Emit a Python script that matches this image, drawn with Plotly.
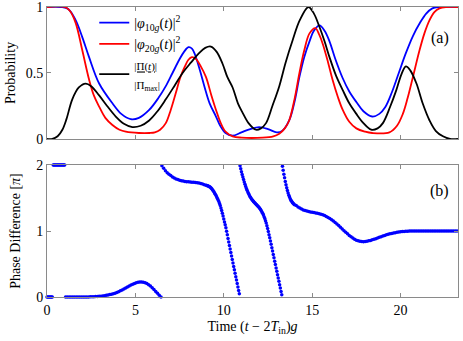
import numpy as np
import plotly.graph_objects as go

# ---- panel (a): probabilities ----
t_blue = [0, 0.8, 1.2, 1.62, 2.0, 2.38, 2.95, 3.7, 4.2, 4.74, 5.2, 5.78, 6.3, 6.72, 7.1,
          7.48, 7.75, 8.0, 8.2, 8.37, 8.65, 8.9, 9.2, 9.56, 9.8, 10.1, 10.5, 11.0, 11.5,
          12.0, 12.5, 13.0, 13.3, 13.7, 14.0, 14.28, 14.55, 14.85, 15.1, 15.41, 15.7,
          15.98, 16.3, 16.73, 17.1, 17.5, 17.9, 18.4, 18.8, 19.13, 19.5, 19.9, 20.3,
          20.7, 21.1, 21.45, 21.8, 22.2, 23.25]
p_blue = [1.0, 1.0, 0.985, 0.90, 0.77, 0.62, 0.42, 0.27, 0.19, 0.15, 0.16, 0.22, 0.31, 0.40, 0.50,
          0.60, 0.66, 0.695, 0.685, 0.64, 0.52, 0.40, 0.27, 0.17, 0.10, 0.045, 0.025, 0.05, 0.075,
          0.09, 0.075, 0.05, 0.06, 0.14, 0.28, 0.47, 0.62, 0.74, 0.82, 0.86, 0.82,
          0.74, 0.61, 0.46, 0.36, 0.28, 0.21, 0.17, 0.19, 0.24, 0.35, 0.50, 0.65,
          0.78, 0.88, 0.95, 0.99, 1.0, 1.0]

t_red = [0, 1.0, 1.3, 1.62, 2.0, 2.38, 2.65, 2.95, 3.3, 3.7, 4.1, 4.46, 5.2, 5.8, 6.1, 6.4,
         6.72, 7.0, 7.29, 7.55, 7.8, 8.0, 8.2, 8.4, 8.7, 8.99, 9.3, 9.56, 9.8, 10.1, 10.5,
         11.0, 12.2, 12.8, 13.14, 13.45, 13.7, 14.0, 14.28, 14.55, 14.85, 15.18, 15.4,
         15.6, 15.9, 16.15, 16.45, 16.73, 17.1, 17.5, 18.0, 18.4, 19.37, 19.8, 20.13,
         20.4, 20.7, 21.07, 21.35, 21.64, 21.9, 22.2, 22.6, 23.25]
p_red = [1.0, 1.0, 0.97, 0.88, 0.67, 0.45, 0.33, 0.245, 0.16, 0.106, 0.07, 0.055, 0.045, 0.045, 0.05, 0.07,
         0.12, 0.22, 0.35, 0.47, 0.55, 0.60, 0.62, 0.61, 0.55, 0.47, 0.33, 0.22, 0.13, 0.055, 0.02,
         0.01, 0.01, 0.02, 0.04, 0.08, 0.14, 0.30, 0.50, 0.67, 0.80, 0.84, 0.79,
         0.72, 0.58, 0.45, 0.32, 0.22, 0.13, 0.08, 0.055, 0.045, 0.05, 0.10, 0.19,
         0.31, 0.47, 0.67, 0.80, 0.90, 0.96, 0.99, 1.0, 1.0]

t_black = [0, 0.3, 0.6, 0.87, 1.1, 1.43, 1.8, 2.19, 2.5, 2.95, 3.4, 3.89, 4.35, 4.83, 5.3,
           5.78, 6.25, 6.72, 7.2, 7.67, 8.15, 8.6, 8.95, 9.27, 9.6, 9.93, 10.2, 10.5, 10.8,
           11.06, 11.4, 11.82, 12.1, 12.39, 12.75, 13.14, 13.5, 13.9, 14.3, 14.79, 15.1,
           15.41, 15.7, 15.98, 16.35, 16.73, 17.1, 17.5, 17.9, 18.34, 18.7, 19.0, 19.4,
           19.76, 20.05, 20.3, 20.55, 20.9, 21.25, 21.64, 22.0, 22.4, 22.8, 23.25]
p_black = [0.0, 0.0, 0.02, 0.07, 0.15, 0.30, 0.39, 0.42, 0.40, 0.33, 0.25, 0.17, 0.115, 0.09, 0.10,
           0.14, 0.21, 0.30, 0.40, 0.50, 0.58, 0.65, 0.69, 0.70, 0.66, 0.57, 0.47, 0.39, 0.27,
           0.20, 0.12, 0.07, 0.08, 0.12, 0.25, 0.40, 0.58, 0.75, 0.90, 1.0, 0.95,
           0.85, 0.74, 0.62, 0.48, 0.37, 0.27, 0.19, 0.12, 0.07, 0.08, 0.12, 0.24,
           0.37, 0.49, 0.55, 0.52, 0.42, 0.27, 0.14, 0.06, 0.02, 0.0, 0.0]

# ---- panel (b): phase difference in units of pi, sampled segments (start, step, values) ----
phase_a = (0.0, 0.05, [0, 0, 0, 0, 0, 0, 0])
phase_b = (0.35, 0.05, [2, 2, 2, 2, 2, 2, 2, 2, 2, 2, 2, 2, 2, 2])
phase_c = (1.05, 0.1, [0, 0, 0, 0, 0, 0, 0, 0, 0, 0, 0.001, 0.001, 0.001, 0.001, 0.002,
                       0.002, 0.004, 0.006, 0.008, 0.01, 0.013, 0.016, 0.02, 0.025, 0.03,
                       0.036, 0.043, 0.05, 0.058, 0.068, 0.08, 0.093, 0.107, 0.122, 0.137,
                       0.152, 0.167, 0.18, 0.193, 0.205, 0.215, 0.222, 0.227, 0.228, 0.225,
                       0.217, 0.204, 0.187, 0.165, 0.14, 0.113, 0.085, 0.056, 0.028, 0.0])
phase_d1 = (6.5, 0.1, [1.99, 1.95, 1.915, 1.885, 1.86, 1.84, 1.82, 1.805, 1.79, 1.78, 1.77,
                       1.763, 1.757, 1.752, 1.748, 1.745, 1.742, 1.74, 1.738, 1.735, 1.732,
                       1.728, 1.722, 1.714, 1.703])
phase_d2 = (9.0, 0.04, [1.695, 1.691, 1.686, 1.681, 1.676, 1.670, 1.662, 1.652, 1.640, 1.627,
                        1.612, 1.596, 1.578, 1.559, 1.538, 1.516, 1.494, 1.472, 1.446, 1.418,
                        1.386, 1.350, 1.312, 1.270, 1.226, 1.182, 1.138, 1.094, 1.048, 0.996,
                        0.942, 0.888, 0.834, 0.780, 0.727, 0.674, 0.620, 0.568, 0.516, 0.464,
                        0.412, 0.360, 0.308, 0.256, 0.204, 0.152, 0.100, 0.048])
phase_e = (10.92, 0.04, [1.990, 1.945, 1.900, 1.858, 1.818, 1.780, 1.743, 1.708, 1.675, 1.645,
                         1.617, 1.591, 1.567, 1.545, 1.525, 1.507, 1.490, 1.475, 1.461, 1.448,
                         1.436, 1.424, 1.413, 1.402, 1.391, 1.380, 1.368, 1.355, 1.341, 1.326,
                         1.309, 1.290, 1.270, 1.245, 1.218, 1.188, 1.155, 1.120, 1.080, 1.037,
                         0.992, 0.945, 0.897, 0.848, 0.798, 0.747, 0.696, 0.645, 0.594, 0.543,
                         0.492, 0.441, 0.390, 0.339, 0.288, 0.237, 0.186, 0.135, 0.084, 0.033])
phase_f1 = (13.32, 0.04, [1.980, 1.920, 1.862, 1.806, 1.752, 1.702, 1.656, 1.614, 1.576, 1.543,
                          1.514, 1.489, 1.468, 1.450, 1.434, 1.420, 1.408, 1.397])
phase_f2 = (14.1, 0.1, [1.385, 1.365, 1.348, 1.333, 1.320, 1.310, 1.302, 1.296, 1.290, 1.285,
                        1.280, 1.275, 1.269, 1.262, 1.254, 1.245, 1.234, 1.221, 1.206, 1.190,
                        1.172, 1.152, 1.130, 1.107, 1.083, 1.058, 1.032, 1.006, 0.981, 0.957,
                        0.934, 0.912, 0.893, 0.876, 0.862, 0.851, 0.844, 0.840, 0.839, 0.841,
                        0.845, 0.851, 0.858, 0.866, 0.875, 0.884, 0.894, 0.904, 0.914, 0.924,
                        0.933, 0.942, 0.950, 0.957, 0.964, 0.970, 0.975, 0.980, 0.984, 0.988,
                        0.991, 0.994, 0.996, 0.998, 1, 1, 1, 1, 1, 1, 1, 1, 1, 1, 1, 1, 1, 1,
                        1, 1, 1, 1, 1, 1, 1, 1, 1, 1, 1, 1, 1, 1])

segments = [phase_a, phase_b, phase_c, phase_d1, phase_d2, phase_e, phase_f1, phase_f2]
t_phase = np.concatenate([t0 + dt * np.arange(len(v)) for t0, dt, v in segments])
phase = np.concatenate([v for _, _, v in segments])

FONT = "Liberation Serif, Times New Roman, serif"
FRAME = "#8a8a8a"

fig = go.Figure()

fig.add_trace(go.Scatter(x=t_blue, y=p_blue, mode="lines", line=dict(color="#0000ff", width=1.8, shape="spline"),
                         name="|<i>φ</i><sub>10<i>g</i></sub>(<i>t</i>)|<sup>2</sup>"))
fig.add_trace(go.Scatter(x=t_red, y=p_red, mode="lines", line=dict(color="#ff0000", width=1.8, shape="spline"),
                         name="|<i>φ</i><sub>20<i>g</i></sub>(<i>t</i>)|<sup>2</sup>"))
fig.add_trace(go.Scatter(x=t_black, y=p_black, mode="lines", line=dict(color="#000000", width=1.8, shape="spline"),
                         name="<span style='font-size:11px'><u>|Π(<i>t</i>)|</u><br>|Π<sub>max</sub>|</span>"))

fig.add_trace(go.Scatter(x=t_phase, y=phase, mode="markers", xaxis="x2", yaxis="y2",
                         marker=dict(color="#0000ff", size=3.5), cliponaxis=False, showlegend=False))

axis_common = dict(showline=True, linecolor=FRAME, linewidth=1, mirror="ticks", ticks="inside",
                   ticklen=4, tickcolor=FRAME, showgrid=False, zeroline=False, automargin=False,
                   ticklabeloverflow="allow", tickfont=dict(family=FONT, size=14, color="black"))

fig.update_layout(
    width=463, height=341,
    margin=dict(l=47, r=5, t=7, b=44),
    paper_bgcolor="white", plot_bgcolor="white",
    font=dict(family=FONT, size=14, color="black"),
    xaxis=dict(domain=[0, 1], range=[0, 23.25], tickvals=[0, 5, 10, 15, 20], showticklabels=False,
               anchor="y", **axis_common),
    yaxis=dict(domain=[0.545, 1], range=[0, 1], tickvals=[0, 0.5, 1], ticktext=["0", "0.5", "1"],
               title=dict(text="Probability", standoff=6, font=dict(size=14)), anchor="x", **axis_common),
    xaxis2=dict(domain=[0, 1], range=[0, 23.25], tickvals=[0, 5, 10, 15, 20], anchor="y2",
                title=dict(text="Time (<i>t</i> − 2<i>T</i><sub>in</sub>)<i>g</i>", standoff=4, font=dict(size=14)),
                **axis_common),
    yaxis2=dict(domain=[0, 0.455], range=[0, 2], tickvals=[0, 1, 2],
                title=dict(text="Phase Difference [<i>π</i>]", standoff=12, font=dict(size=14)),
                anchor="x2", **axis_common),
    legend=dict(x=0.115, y=1.0, xanchor="left", yanchor="top", bgcolor="rgba(0,0,0,0)",
                font=dict(family=FONT, size=14), tracegroupgap=0),
    showlegend=True,
    annotations=[
        dict(text="(a)", x=0.983, y=0.93, xref="paper", yref="paper", xanchor="right", showarrow=False,
             font=dict(family=FONT, size=16)),
        dict(text="(b)", x=0.983, y=0.366, xref="paper", yref="paper", xanchor="right", showarrow=False,
             font=dict(family=FONT, size=16)),
    ],
)

# drop the browser's default body margin so the 463x341 figure fills the window exactly
fig.write_html("out.html", config={"displayModeBar": False},
               post_script="document.body.style.margin = '0px';")
